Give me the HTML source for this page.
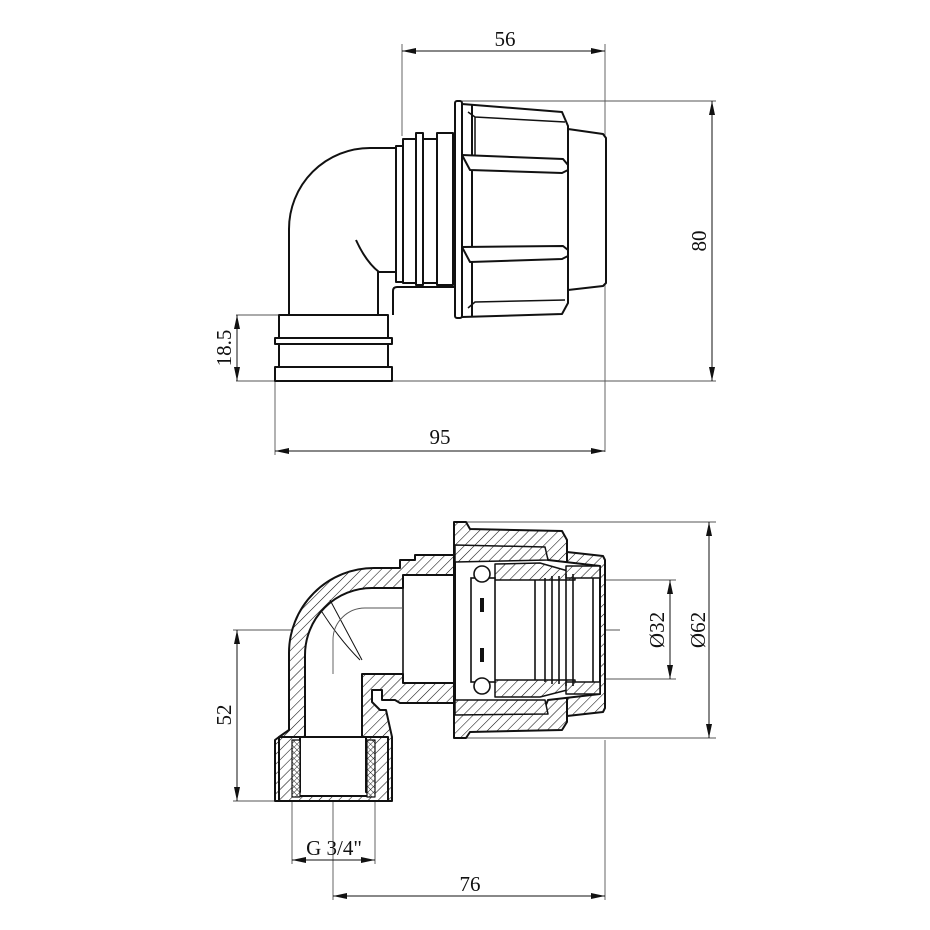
<!DOCTYPE html>
<html><head><meta charset="utf-8"><style>
html,body{margin:0;padding:0;background:#fff}
svg{display:block}
text{font-family:"Liberation Serif",serif;fill:#111}
</style></head><body>
<svg width="930" height="930" viewBox="0 0 930 930" xmlns="http://www.w3.org/2000/svg">
<defs>
<pattern id="h" width="7" height="7" patternUnits="userSpaceOnUse" patternTransform="rotate(45)">
<rect width="7" height="7" fill="#fff"/><line x1="0" y1="0" x2="0" y2="7" stroke="#111" stroke-width="1.1"/>
</pattern>
<pattern id="x" width="4" height="4" patternUnits="userSpaceOnUse" patternTransform="rotate(45)">
<rect width="4" height="4" fill="#fff"/><line x1="0" y1="0" x2="0" y2="4" stroke="#111" stroke-width="0.9"/><line x1="0" y1="0" x2="4" y2="0" stroke="#111" stroke-width="0.9"/>
</pattern>
<marker id="a" viewBox="0 0 14 6" refX="14" refY="3" markerWidth="14" markerHeight="6" orient="auto-start-reverse" markerUnits="userSpaceOnUse"><path d="M0,0 L14,3 L0,6 z" fill="#111"/></marker>
</defs>

<!-- ===== TOP VIEW dimensions ===== -->
<g stroke="#555" stroke-width="0.9" fill="none">
<line x1="402" y1="44" x2="402" y2="136"/>
<line x1="605" y1="44" x2="605" y2="452"/>
<line x1="458" y1="101" x2="716" y2="101"/>
<line x1="236" y1="381" x2="716" y2="381"/>
<line x1="236" y1="315" x2="280" y2="315"/>
<line x1="275" y1="381" x2="275" y2="455"/>
</g>
<g stroke="#111" stroke-width="1" marker-start="url(#a)" marker-end="url(#a)">
<line x1="402" y1="51" x2="605" y2="51"/>
<line x1="712" y1="101" x2="712" y2="381"/>
<line x1="275" y1="451" x2="605" y2="451"/>
<line x1="237" y1="315" x2="237" y2="381"/>
</g>
<text x="505" y="46" font-size="21" text-anchor="middle">56</text>
<text x="440" y="444" font-size="21" text-anchor="middle">95</text>
<text transform="translate(706,241) rotate(-90)" font-size="21" text-anchor="middle">80</text>
<text transform="translate(231,348) rotate(-90)" font-size="21" text-anchor="middle">18.5</text>

<!-- ===== TOP VIEW body ===== -->
<g stroke="#111" stroke-width="2" fill="#fff" stroke-linejoin="round">
<path d="M396,148 L370,148 A81,81 0 0 0 289,229 L289,315 L378,315 L378,272 L396,272" />
<path d="M356,240 Q366,262 379,272" fill="none"/>
<path d="M393,315 L393,291 Q393,287 397,287 L455,287" fill="none"/>
<rect x="279" y="315" width="109" height="23"/>
<rect x="275" y="338" width="117" height="6"/>
<rect x="279" y="344" width="109" height="23"/>
<rect x="275" y="367" width="117" height="14"/>
<rect x="396" y="146" width="7" height="136"/>
<rect x="403" y="139" width="13" height="144"/>
<rect x="416" y="133" width="7" height="152"/>
<rect x="423" y="139" width="14" height="144"/>
<rect x="437" y="133" width="16" height="152"/>
<rect x="455" y="101" width="7" height="217" rx="2"/>
<path d="M462,104 L562,112 L568,126 L568,303 L562,314 L462,317 Z"/>
<path d="M568,129 L603,134 L606,138 L606,283 L603,286 L568,290 Z"/>
<line x1="472" y1="105" x2="472" y2="316"/>
<path d="M468,112 L475,117 L565,122 M475,117 L475,155" fill="none" stroke-width="1.5"/>
<path d="M462,155 L563,159 L568,165 L568,170 L562,173 L470,170 Z"/>
<path d="M462,247 L563,246 L568,250 L568,256 L562,259 L470,262 Z"/>
<path d="M468,308 L475,302 L565,300" fill="none" stroke-width="1.5"/>
<line x1="462" y1="173" x2="462" y2="247" stroke-width="1.5"/>
</g>

<!-- ===== BOTTOM VIEW dimensions ===== -->
<g stroke="#555" stroke-width="0.9" fill="none">
<line x1="455" y1="522" x2="716" y2="522"/>
<line x1="455" y1="738" x2="716" y2="738"/>
<line x1="603" y1="580" x2="676" y2="580"/>
<line x1="603" y1="679" x2="676" y2="679"/>
<line x1="605" y1="740" x2="605" y2="900"/>
<line x1="233" y1="630" x2="430" y2="630"/>
<line x1="233" y1="801" x2="280" y2="801"/>
<line x1="292" y1="801" x2="292" y2="864"/>
<line x1="375" y1="801" x2="375" y2="864"/>
<line x1="333" y1="580" x2="333" y2="900"/>
<line x1="305" y1="674" x2="362" y2="674"/>
<line x1="460" y1="630" x2="520" y2="630"/>
<line x1="540" y1="630" x2="620" y2="630"/>
</g>
<g stroke="#111" stroke-width="1" marker-start="url(#a)" marker-end="url(#a)">
<line x1="709" y1="522" x2="709" y2="738"/>
<line x1="670" y1="580" x2="670" y2="679"/>
<line x1="237" y1="630" x2="237" y2="801"/>
<line x1="292" y1="860" x2="375" y2="860"/>
<line x1="333" y1="896" x2="605" y2="896"/>
</g>
<text transform="translate(705,630) rotate(-90)" font-size="21" text-anchor="middle">Ø62</text>
<text transform="translate(664,630) rotate(-90)" font-size="21" text-anchor="middle">Ø32</text>
<text transform="translate(231,715) rotate(-90)" font-size="21" text-anchor="middle">52</text>
<text x="334" y="855" font-size="21" text-anchor="middle">G 3/4"</text>
<text x="470" y="891" font-size="21" text-anchor="middle">76</text>

<!-- ===== BOTTOM VIEW body ===== -->
<g stroke="#111" stroke-width="2" stroke-linejoin="round">
<path fill="url(#h)" d="M275,801 L275,740 L279,737 L289,730 L289,653 A85,85 0 0 1 374,568 L400,568 L400,560 L415,560 L415,555 L455,555 L455,703 L400,703 L395,700 L382,700 L382,690 L372,690 L372,702 L380,710 L386,710 L392,737 L392,801 Z"/>
<path fill="#fff" d="M305,737 L305,655 A67,67 0 0 1 372,588 L403,588 L403,575 L455,575 L455,683 L403,683 L403,674 L362,674 L362,737 Z"/>
<rect x="279" y="737" width="109" height="64" fill="url(#h)"/>
<path fill="#fff" d="M300,737 L366,737 L366,792 L373,796 L294,796 L300,792 Z"/>
<rect x="292" y="740" width="8" height="57" fill="url(#x)" stroke-width="1.2"/>
<rect x="367" y="740" width="8" height="57" fill="url(#x)" stroke-width="1.2"/>
<path fill="url(#h)" d="M454,522 L466,522 L470,529 L562,531 L567,540 L567,722 L562,730 L470,732 L466,738 L454,738 Z"/>
<path fill="url(#h)" d="M567,552 L603,556 L605,560 L605,708 L603,712 L567,716 Z"/>
<path fill="#fff" d="M455,555 L545,552 L548,560 L600,566 L600,694 L548,700 L545,707 L455,703 Z"/>
<path fill="url(#h)" stroke-width="1.5" d="M495,564 L540,563 L575,573 L575,580 L495,580 Z"/>
<path fill="url(#h)" stroke-width="1.5" d="M495,680 L575,680 L575,688 L540,697 L495,697 Z"/>
<path fill="url(#h)" stroke-width="1.5" d="M455,545 L545,547 L548,560 L455,562 Z"/>
<path fill="url(#h)" stroke-width="1.5" d="M455,700 L545,700 L548,714 L455,715 Z"/>
<rect x="566" y="566" width="34" height="12" fill="url(#h)" stroke-width="1.5"/>
<rect x="566" y="682" width="34" height="12" fill="url(#h)" stroke-width="1.5"/>
</g>
<g stroke="#111" fill="#fff" stroke-width="1.6">
<rect x="471" y="578" width="24" height="104"/>
<circle cx="482" cy="574" r="8"/>
<circle cx="482" cy="686" r="8"/>
<rect x="480" y="598" width="4" height="14" fill="#111" stroke="none"/>
<rect x="480" y="648" width="4" height="14" fill="#111" stroke="none"/>
<line x1="535" y1="580" x2="535" y2="680"/>
<line x1="545" y1="578" x2="545" y2="682"/>
<line x1="552" y1="576" x2="552" y2="684"/>
<line x1="559" y1="576" x2="559" y2="684"/>
<line x1="566" y1="574" x2="566" y2="686"/>
<line x1="573" y1="574" x2="573" y2="686"/>
<line x1="593" y1="578" x2="593" y2="682"/>
<line x1="403" y1="575" x2="403" y2="683"/>
</g>
<path d="M322,612 Q340,640 360,660 M330,600 L362,660" stroke="#111" stroke-width="1" fill="none"/>
<path d="M333,674 L333,640 A32,32 0 0 1 365,608 L403,608" stroke="#555" stroke-width="0.9" fill="none"/>
</svg>
</body></html>
